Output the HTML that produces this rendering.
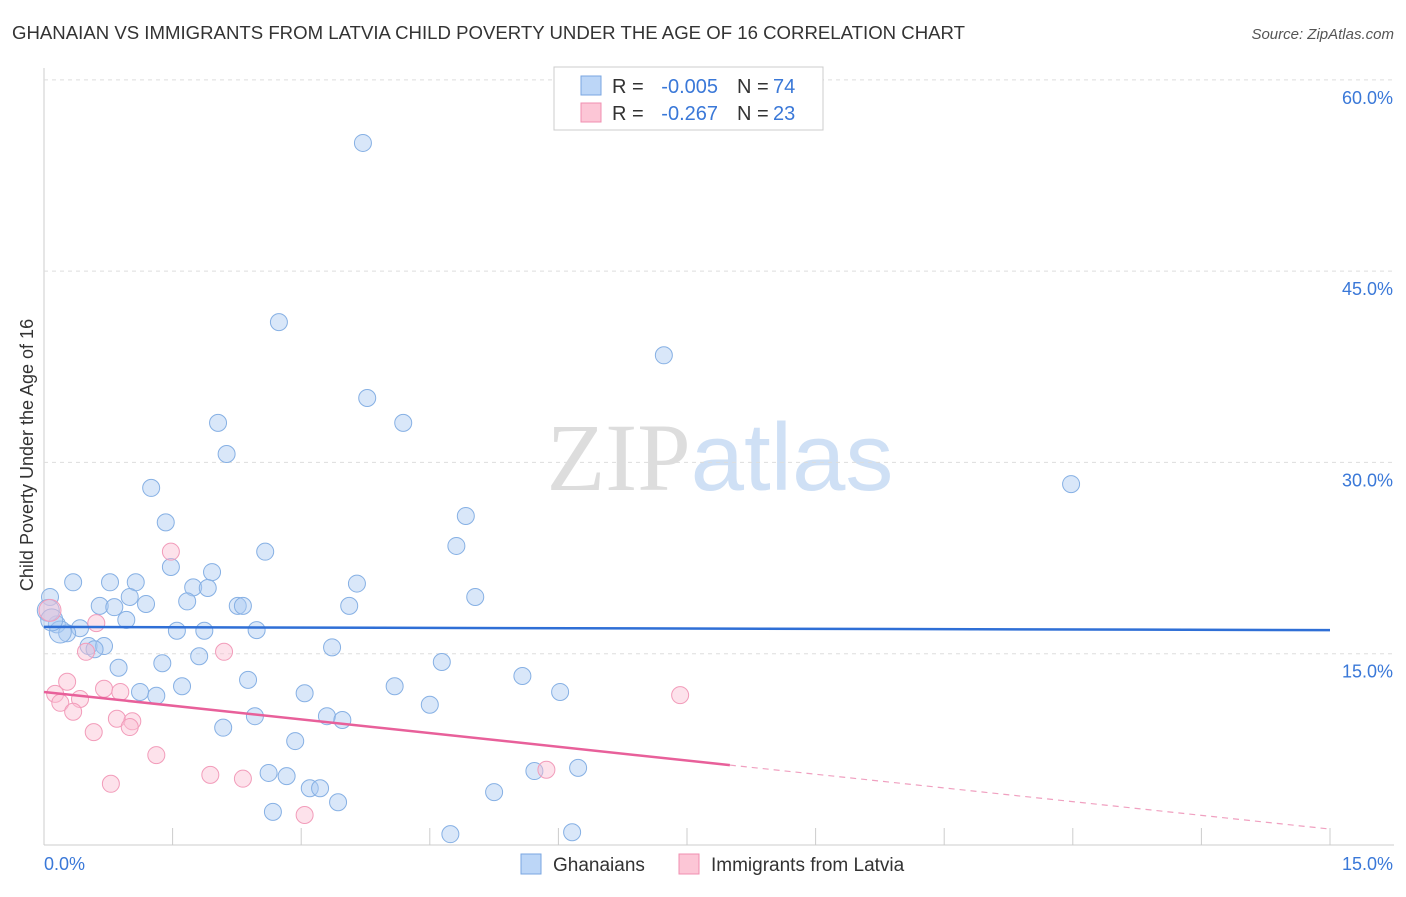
<!DOCTYPE html>
<html><head><meta charset="utf-8"><style>
body{margin:0;background:#fff;font-family:"Liberation Sans",sans-serif;}
</style></head><body>
<svg id="chart" width="1406" height="892" xmlns="http://www.w3.org/2000/svg" style="font-family:'Liberation Sans',sans-serif">
<text x="12" y="39" font-size="18" fill="#333" textLength="953" lengthAdjust="spacingAndGlyphs">GHANAIAN VS IMMIGRANTS FROM LATVIA CHILD POVERTY UNDER THE AGE OF 16 CORRELATION CHART</text>
<text x="1394" y="39" font-size="15" fill="#555" text-anchor="end" font-style="italic">Source: ZipAtlas.com</text>
<text x="720" y="490" font-size="96" text-anchor="middle"><tspan fill="#ddd" font-family="Liberation Serif">ZIP</tspan><tspan fill="#cfe0f5">atlas</tspan></text>
<text transform="translate(33,455) rotate(-90)" font-size="18" fill="#333" text-anchor="middle">Child Poverty Under the Age of 16</text>
<g id="grid"></g><g id="pts"></g><g id="lines"></g>
<g>
<rect x="554" y="67" width="269" height="63" fill="#fff" stroke="#ccc"/>
<rect x="581" y="76" width="20" height="19" fill="#bcd6f7" stroke="#7aa6e0"/>
<rect x="581" y="103" width="20" height="19" fill="#fcc6d6" stroke="#f08fb0"/>
<text x="612" y="93" font-size="20" fill="#333">R =</text>
<text x="718" y="93" font-size="20" fill="#3a78d8" text-anchor="end">-0.005</text>
<text x="737" y="93" font-size="20" fill="#333">N =</text>
<text x="773" y="93" font-size="20" fill="#3a78d8">74</text>
<text x="612" y="120" font-size="20" fill="#333">R =</text>
<text x="718" y="120" font-size="20" fill="#3a78d8" text-anchor="end">-0.267</text>
<text x="737" y="120" font-size="20" fill="#333">N =</text>
<text x="773" y="120" font-size="20" fill="#3a78d8">23</text>
</g>
<g>
<rect x="521" y="854" width="20" height="20" fill="#bcd6f7" stroke="#7aa6e0"/>
<text x="553" y="871" font-size="19" fill="#333">Ghanaians</text>
<rect x="679" y="854" width="20" height="20" fill="#fcc6d6" stroke="#f08fb0"/>
<text x="711" y="871" font-size="19" fill="#333">Immigrants from Latvia</text>
</g>
</svg>
<script>
const yTicks=[15,30,45,60];
const yTickLabels=["15.0%","30.0%","45.0%","60.0%"];
const xTickLabels=["0.0%","15.0%"];
const blueX=[3.72,2.74,7.23,3.77,4.19,2.03,2.13,1.25,11.98,1.42,4.92,4.81,2.58,1.48,1.96,0.34,0.77,1.07,3.65,1.74,1.91,5.03,0.07,1.0,1.67,0.65,0.82,1.19,2.26,2.32,3.56,0.96,0.15,0.42,0.27,1.55,1.87,2.48,0.52,0.70,0.59,3.36,1.81,1.38,4.64,0.87,5.58,2.38,1.61,4.09,1.12,1.31,3.04,6.02,4.5,2.46,3.3,3.48,2.09,2.93,2.62,2.83,5.72,6.23,3.1,3.22,5.25,3.43,2.67,4.74,6.16,0.19,0.05,0.09];
const blueY=[55.05,41.0,38.4,35.05,33.1,33.1,30.66,28.0,28.3,25.3,25.8,23.45,23.0,21.8,21.4,20.6,20.6,20.6,20.5,20.2,20.15,19.45,19.45,19.45,19.1,18.75,18.65,18.9,18.75,18.75,18.75,17.65,17.3,17.0,16.6,16.8,16.8,16.85,15.6,15.6,15.35,15.5,14.8,14.25,14.35,13.9,13.25,12.95,12.45,12.45,12.0,11.7,11.9,12.0,11.0,10.1,10.1,9.8,9.2,8.15,5.65,5.4,5.8,6.05,4.45,4.45,4.15,3.35,2.6,0.85,1.0,16.7,18.4,17.65];
const pinkX=[1.48,0.61,0.49,2.1,0.27,0.70,0.89,0.13,0.42,0.19,0.34,0.85,1.03,1.0,0.58,1.31,1.94,2.32,0.78,3.04,5.86,7.42,0.07];
const pinkY=[23.0,17.4,15.15,15.15,12.8,12.25,12.0,11.85,11.45,11.15,10.45,9.9,9.7,9.25,8.85,7.05,5.5,5.2,4.8,2.35,5.9,11.75,18.4];
const blueLine=[17.1,16.85];
const pinkLine=[12.0,1.25];
const pinkSolidEnd=8.0;
const X=v=>44+v/15*1286, Y=v=>845-v*12.753;
const NS="http://www.w3.org/2000/svg";
function mk(p,t,a){const e=document.createElementNS(NS,t);for(const k in a)e.setAttribute(k,a[k]);document.getElementById(p).appendChild(e);return e;}
let ax=mk('grid','line',{x1:44,y1:68,x2:44,y2:845,stroke:'#ccc'});

let bx=mk('grid','line',{x1:44,y1:845,x2:1394,y2:845,stroke:'#ccc'});

yTicks.forEach((t,i)=>{
 const g=mk('grid','line',{x1:44,y1:Y(t),x2:1394,y2:Y(t),stroke:'#ddd','stroke-dasharray':'4,4'});
 
 const l=mk('grid','text',{x:1393,y:Y(t)+24,'font-size':18,fill:'#3a78d8','text-anchor':'end'});
 l.textContent=yTickLabels[i];
 
});
for(let i=1;i<=10;i++){const t=mk('grid','line',{x1:X(i*1.5),y1:828,x2:X(i*1.5),y2:845,stroke:'#ccc'});
 }
[[44,'start',0],[1393,'end',1]].forEach(([x,a,i])=>{const l=mk('grid','text',{x:x,y:870,'font-size':18,fill:'#3a78d8','text-anchor':a});l.textContent=xTickLabels[i];
 });
blueX.forEach((v,i)=>{const c=mk('pts','circle',{cx:X(v),cy:Y(blueY[i]),r:i>=71?11:8.5,fill:'rgba(170,202,242,0.45)',stroke:'#86b0e4','stroke-width':1});
 });
pinkX.forEach((v,i)=>{const c=mk('pts','circle',{cx:X(v),cy:Y(pinkY[i]),r:i==22?11:8.5,fill:'rgba(250,190,210,0.45)',stroke:'#f29cba','stroke-width':1});
 });
let bl=mk('lines','line',{x1:X(0),y1:Y(blueLine[0]),x2:X(15),y2:Y(blueLine[1]),stroke:'#2f6fd6','stroke-width':2.5});

const py=v=>pinkLine[0]+(pinkLine[1]-pinkLine[0])*v/15;
let pl=mk('lines','line',{x1:X(0),y1:Y(py(0)),x2:X(pinkSolidEnd),y2:Y(py(pinkSolidEnd)),stroke:'#e8609a','stroke-width':2.5});

let pd=mk('lines','line',{x1:X(pinkSolidEnd),y1:Y(py(pinkSolidEnd)),x2:X(15),y2:Y(py(15)),stroke:'#f0a0c0','stroke-width':1.2,'stroke-dasharray':'6,5'});

</script>
</body></html>
